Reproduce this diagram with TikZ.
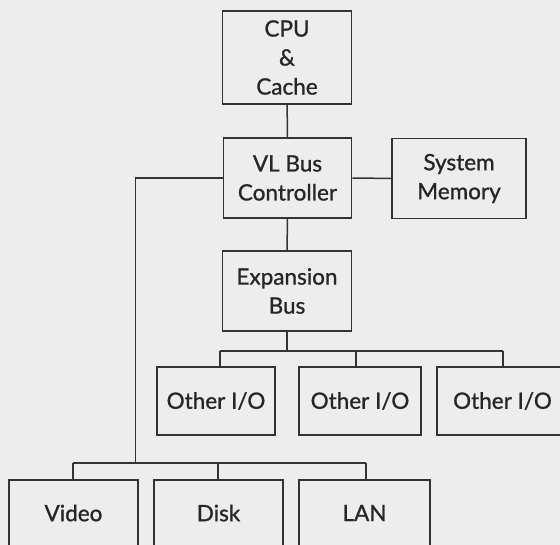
\documentclass[tikz,border=0pt]{standalone}
\usepackage{fontspec}
\setmainfont{Lato}
\newfontfamily\labelfont{Lato}[UprightFeatures={FakeBold=1.0}]
\usetikzlibrary{calc}
\definecolor{paper}{HTML}{EDEDED}
\definecolor{ink}{HTML}{333333}
\definecolor{letters}{HTML}{262626}
\begin{document}
\begin{tikzpicture}[x=1pt,y=-1pt,
  box/.style={draw=ink, line width=1.6pt, rectangle, inner sep=0pt,
    align=center, text=letters, font=\labelfont\fontsize{22.5}{29}\selectfont},
  wire/.style={draw=ink, line width=1.5pt}]
  % page and clipping
  \useasboundingbox (0,0) rectangle (560,545);
  \fill[paper] (0,0) rectangle (560,545);
  \clip (0,0) rectangle (560,545);

  % main column
  \node[box, minimum width=129pt, minimum height=93pt] (cpu) at (287,57.5) {CPU\\\&\\Cache};
  \node[box, minimum width=128pt, minimum height=80pt] (vl) at (287.5,178) {VL Bus\\Controller};
  \node[box, minimum width=134pt, minimum height=80pt] (mem) at (459,178.5) {System\\Memory};
  \node[box, minimum width=129pt, minimum height=80pt] (exp) at (287,291) {Expansion\\Bus};

  % expansion bus devices
  \node[box, minimum width=118pt, minimum height=68pt] (o1) at (216,401) {Other I/O};
  \node[box, minimum width=122pt, minimum height=68pt] (o2) at (360,401) {Other I/O};
  \node[box, minimum width=131pt, minimum height=68pt] (o3) at (502.5,401) {Other I/O};

  % local bus devices
  \node[box, minimum width=129pt, minimum height=66pt] (video) at (73.5,513) {Video};
  \node[box, minimum width=129pt, minimum height=66pt] (disk) at (218.5,513) {Disk};
  \node[box, minimum width=131pt, minimum height=66pt] (lan) at (364.5,513) {LAN};

  % bus junctions
  \coordinate (ebus) at (287,351);
  \coordinate (eb1) at (220,351);
  \coordinate (eb2) at (356,351);
  \coordinate (eb3) at (503,351);
  \coordinate (lcorner) at (135.5,178);
  \coordinate (lbus) at (135.5,463);
  \coordinate (lb1) at (73,463);
  \coordinate (lb2) at (218,463);
  \coordinate (lb3) at (366,463);

  % connections
  \draw[wire] (cpu) -- (vl);
  \draw[wire] (vl) -- (mem);
  \draw[wire] (vl) -- (exp);
  \draw[wire] (exp.south) -- (ebus);
  \draw[wire] (eb1) -- (eb3);
  \draw[wire] (eb1) -- (eb1 |- o1.north);
  \draw[wire] (eb2) -- (eb2 |- o2.north);
  \draw[wire] (eb3) -- (eb3 |- o3.north);
  \draw[wire] (vl.west) -- (lcorner) -- (lbus);
  \draw[wire] (lb1) -- (lb3);
  \draw[wire] (lb1) -- (lb1 |- video.north);
  \draw[wire] (lb2) -- (lb2 |- disk.north);
  \draw[wire] (lb3) -- (lb3 |- lan.north);
\end{tikzpicture}
\end{document}
